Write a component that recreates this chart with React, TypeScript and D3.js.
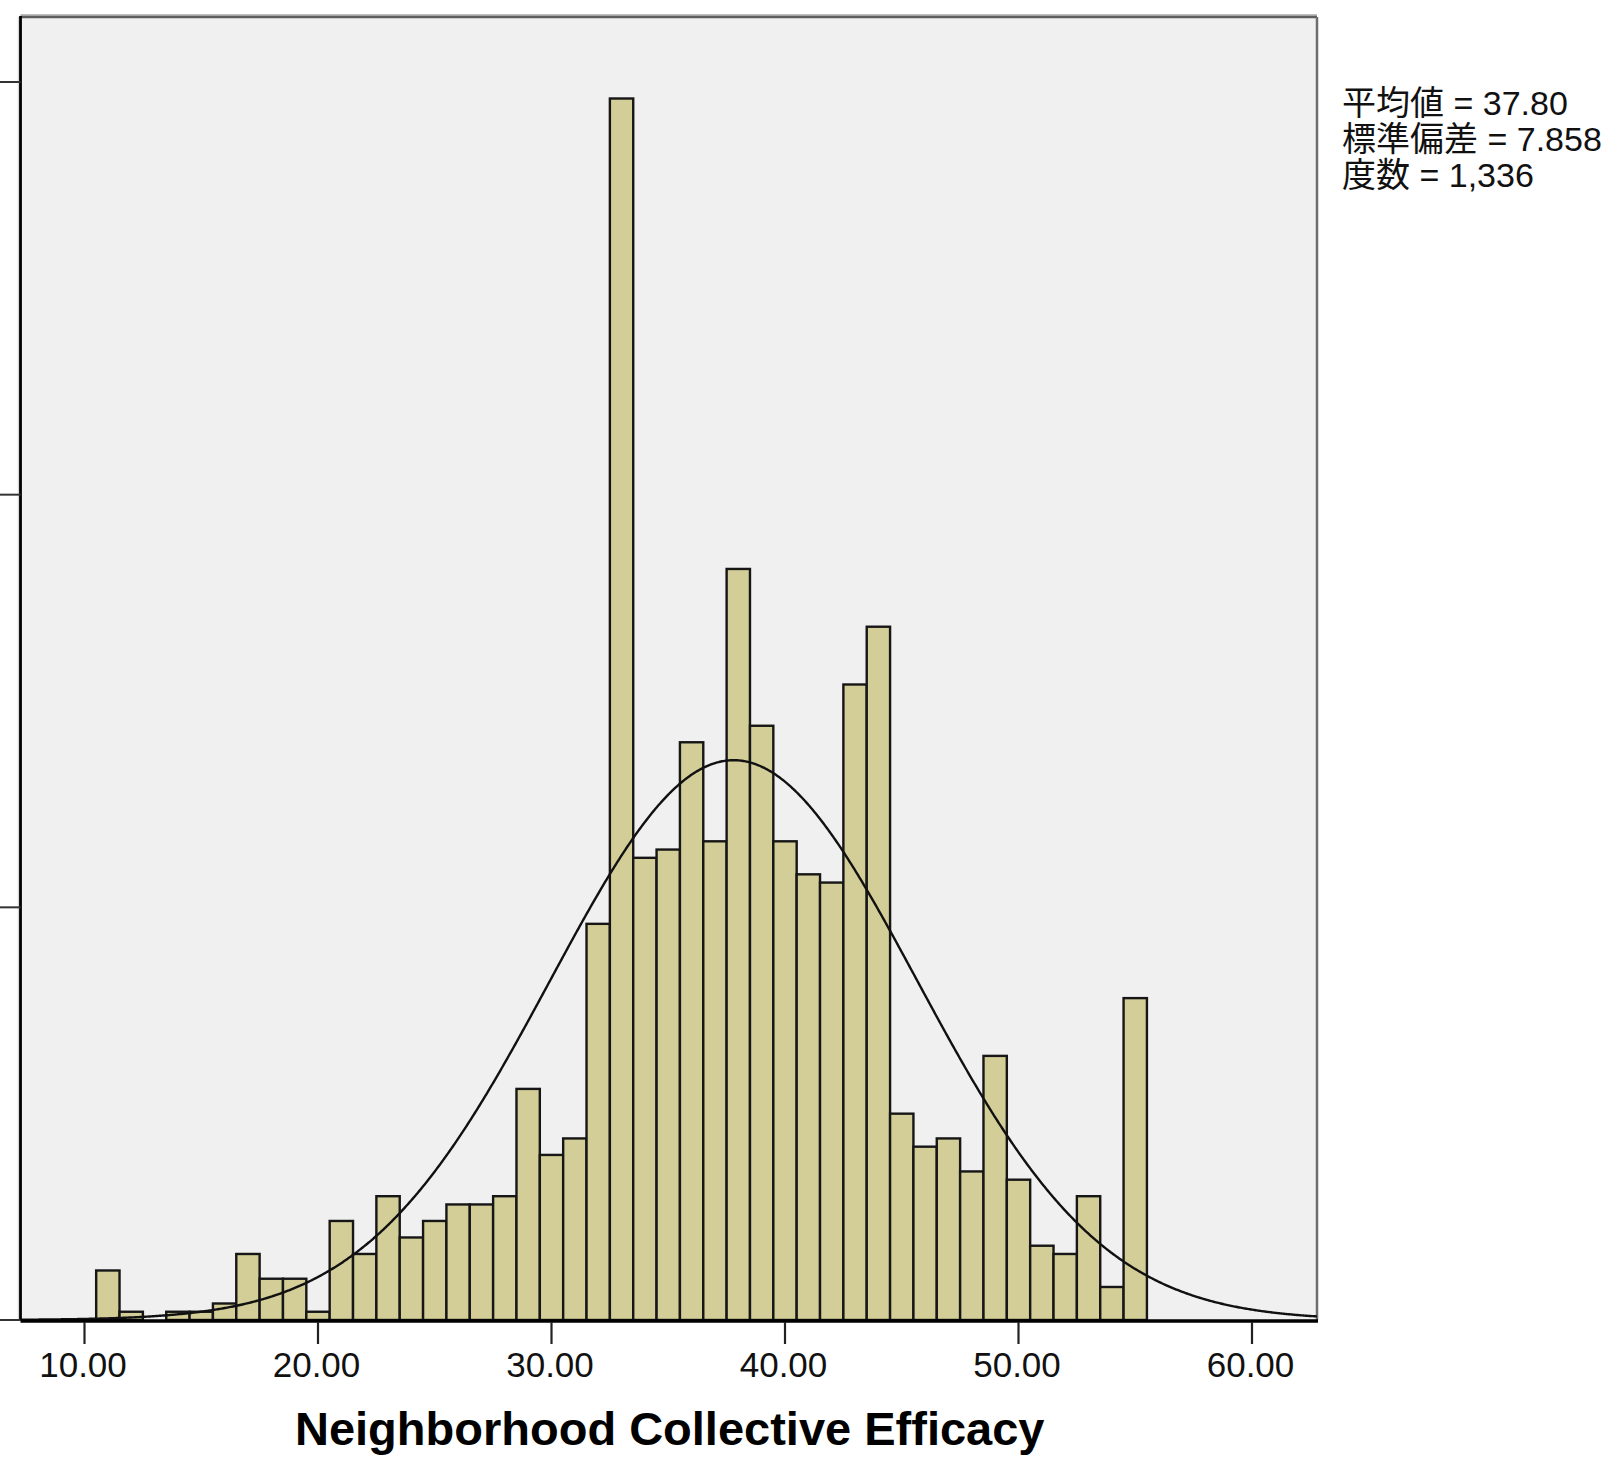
import React, { useRef, useEffect } from 'react';
import * as d3 from 'd3';

// histogram bins (centres, width 1) and their counts
const binCenters = [
  11, 12, 13, 14, 15, 16, 17, 18, 19, 20,
  21, 22, 23, 24, 25, 26, 27, 28, 29, 30,
  31, 32, 33, 34, 35, 36, 37, 38, 39, 40,
  41, 42, 43, 44, 45, 46, 47, 48, 49, 50,
  51, 52, 53, 54, 55,
];
const binCounts = [
  6, 1, 0, 1, 1, 2, 8, 5, 5, 1,
  12, 8, 15, 10, 12, 14, 14, 15, 28, 20,
  22, 48, 148, 56, 57, 70, 58, 91, 72, 58,
  54, 53, 77, 84, 25, 21, 22, 18, 32, 17,
  9, 8, 15, 4, 39,
];
const binWidth = 1;

const xTicks = [10, 20, 30, 40, 50, 60];
const yTicks = [0, 50, 100, 150];

const mean = 37.8;
const stdDev = 7.858;
const total = 1336;
const statLines = ['平均値 = 37.80', '標準偏差 = 7.858', '度数 = 1,336'];
const xTitle = 'Neighborhood Collective Efficacy';

const App = () => {
  const ref = useRef<SVGSVGElement>(null);

  useEffect(() => {
    const width = 1603;
    const height = 1457;

    // plot frame
    const left = 20.5;
    const right = 1317;
    const top = 17;
    const bottom = 1320;

    const x = d3.scaleLinear().domain([10, 60]).range([84.5, 1252]);
    const y = d3.scaleLinear().domain([0, 150]).range([bottom, 82]);

    const svg = d3.select(ref.current);
    svg.selectAll('*').remove();
    svg.attr('width', width).attr('height', height);

    svg.append('rect').attr('width', width).attr('height', height).attr('fill', '#fff');

    // background
    svg.append('rect')
      .attr('x', left).attr('y', top)
      .attr('width', right - left).attr('height', bottom - top)
      .attr('fill', '#f0f0f0');

    // top / right frame
    svg.append('line')
      .attr('x1', left).attr('x2', right).attr('y1', top - 2).attr('y2', top - 2)
      .attr('stroke', '#a8a8a8').attr('stroke-width', 1.5);
    svg.append('line')
      .attr('x1', left).attr('x2', right).attr('y1', top).attr('y2', top)
      .attr('stroke', '#5e5e5e').attr('stroke-width', 2.5);
    svg.append('line')
      .attr('x1', right).attr('x2', right).attr('y1', top).attr('y2', bottom)
      .attr('stroke', '#6e6e6e').attr('stroke-width', 2.5);

    // bars
    svg.append('g')
      .selectAll('rect')
      .data(binCenters.map((c, i) => ({ c, n: binCounts[i] })))
      .join('rect')
        .attr('x', d => x(d.c - binWidth / 2))
        .attr('y', d => y(d.n))
        .attr('width', d => x(d.c + binWidth / 2) - x(d.c - binWidth / 2))
        .attr('height', d => y(0) - y(d.n))
        .attr('fill', '#d3ce97')
        .attr('stroke', '#161616')
        .attr('stroke-width', 2.4);

    // normal curve
    const [x0, x1] = [x.invert(left), x.invert(right)];
    const pts = d3.range(x0, x1, 0.05).concat([x1]);
    const pdf = (v: number) =>
      (total * binWidth) / (stdDev * Math.sqrt(2 * Math.PI)) *
      Math.exp(-0.5 * ((v - mean) / stdDev) ** 2);
    svg.append('path')
      .datum(pts)
      .attr('d', d3.line<number>().x(d => x(d)).y(d => y(pdf(d))))
      .attr('fill', 'none')
      .attr('stroke', '#111')
      .attr('stroke-width', 2.4);

    // y axis (labels cropped off in the original)
    svg.append('line')
      .attr('x1', left - 2).attr('x2', left - 2).attr('y1', top).attr('y2', bottom)
      .attr('stroke', '#d8d8d8').attr('stroke-width', 1.5);
    svg.append('line')
      .attr('x1', left).attr('x2', left).attr('y1', top - 1).attr('y2', bottom)
      .attr('stroke', '#000').attr('stroke-width', 2.8);
    svg.append('g')
      .selectAll('line')
      .data(yTicks)
      .join('line')
        .attr('x1', 0).attr('x2', left)
        .attr('y1', d => y(d)).attr('y2', d => y(d))
        .attr('stroke', '#333').attr('stroke-width', 2);

    // x axis
    svg.append('line')
      .attr('x1', left).attr('x2', right + 1).attr('y1', bottom + 1).attr('y2', bottom + 1)
      .attr('stroke', '#000').attr('stroke-width', 3.5);
    const xg = svg.append('g');
    xg.selectAll('line')
      .data(xTicks)
      .join('line')
        .attr('x1', d => x(d)).attr('x2', d => x(d))
        .attr('y1', bottom + 2).attr('y2', 1344)
        .attr('stroke', '#222').attr('stroke-width', 2.2);
    xg.selectAll('text')
      .data(xTicks)
      .join('text')
        .attr('x', d => x(d) - 1.5)
        .attr('y', 1377)
        .attr('text-anchor', 'middle')
        .attr('font-family', '"Liberation Sans", Arial, sans-serif')
        .attr('font-size', 35)
        .attr('fill', '#111')
        .text(d => d.toFixed(2));

    // axis title
    svg.append('text')
      .attr('x', (left + right) / 2 + 1)
      .attr('y', 1445)
      .attr('text-anchor', 'middle')
      .attr('font-family', '"Liberation Sans", Arial, sans-serif')
      .attr('font-weight', 'bold')
      .attr('font-size', 47)
      .attr('fill', '#000')
      .text(xTitle);

    // stats box text
    svg.append('g')
      .selectAll('text')
      .data(statLines)
      .join('text')
        .attr('x', 1342)
        .attr('y', (d, i) => 115 + i * 36)
        .attr('font-family', '"Liberation Sans", "Noto Sans CJK JP", sans-serif')
        .attr('font-size', 34)
        .attr('fill', '#111')
        .text(d => d);
  }, []);

  return (
    <svg
      ref={ref}
      style={{ position: 'absolute', left: 0, top: 0, display: 'block' }}
    />
  );
};

export default App;
